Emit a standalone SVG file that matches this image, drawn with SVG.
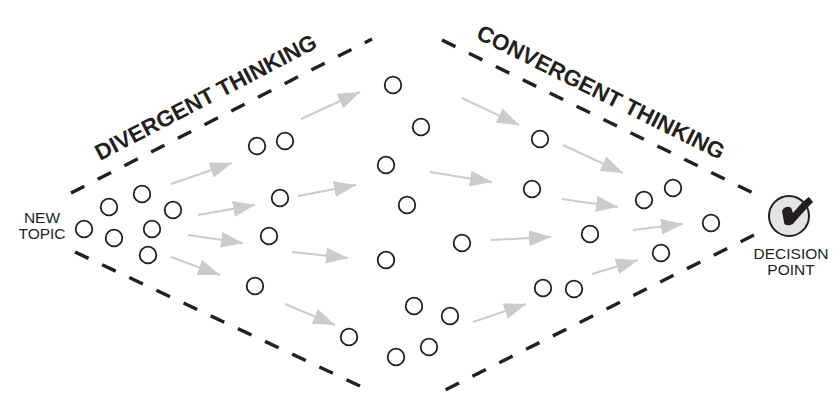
<svg xmlns="http://www.w3.org/2000/svg" width="839" height="407" viewBox="0 0 839 407">
<style>
text{font-family:"Liberation Sans",Arial,sans-serif;fill:#231f20}
.l{font-size:15.5px;text-anchor:middle}
.t{font-size:22.5px;font-weight:bold}
.n{fill:#fff;stroke:#231f20;stroke-width:1.8}
.d{fill:none;stroke:#231f20;stroke-width:3.4;stroke-dasharray:15 15}
.a{stroke:#cbcbcb;stroke-width:2;fill:none;marker-end:url(#ah)}
</style>
<defs><marker id="ah" markerUnits="userSpaceOnUse" markerWidth="24" markerHeight="18" refX="22" refY="8" orient="auto"><path d="M0 0L22 8L0 16Z" fill="#cbcbcb"/></marker></defs>
<rect width="839" height="407" fill="#fff"/>
<g id="connectors">
<path class="d" d="M71 193L372 39"/>
<path class="d" d="M75 252L362 387"/>
<path class="d" d="M442 40L753 193"/>
<path class="d" d="M754 235L445 390"/>
<path class="a" d="M171 184L232 163"/>
<path class="a" d="M198 215L255 205"/>
<path class="a" d="M188 235L243 243"/>
<path class="a" d="M171 257L220 275"/>
<path class="a" d="M301 119L360 92"/>
<path class="a" d="M298 196L356 185"/>
<path class="a" d="M292 252L348 258"/>
<path class="a" d="M285 304L335 325"/>
<path class="a" d="M430 172L492 182"/>
<path class="a" d="M462 98L519 125"/>
<path class="a" d="M563 145L623 173"/>
<path class="a" d="M562 199L618 207"/>
<path class="a" d="M491 240L551 237"/>
<path class="a" d="M473 322L526 304"/>
<path class="a" d="M592 274L638 260"/>
<path class="a" d="M633 230L683 224"/>
</g>
<g id="nodes">
<circle class="n" cx="84" cy="229" r="8.3"/><circle class="n" cx="109" cy="207" r="8.3"/><circle class="n" cx="114" cy="238" r="8.3"/><circle class="n" cx="142" cy="194" r="8.3"/><circle class="n" cx="152" cy="229" r="8.3"/><circle class="n" cx="173" cy="210" r="8.3"/><circle class="n" cx="148" cy="255" r="8.3"/><circle class="n" cx="257" cy="146" r="8.3"/><circle class="n" cx="285" cy="141" r="8.3"/><circle class="n" cx="280" cy="198" r="8.3"/><circle class="n" cx="269" cy="236" r="8.3"/><circle class="n" cx="255" cy="286" r="8.3"/><circle class="n" cx="349" cy="337" r="8.3"/><circle class="n" cx="393" cy="85" r="8.3"/><circle class="n" cx="421" cy="127" r="8.3"/><circle class="n" cx="386" cy="165" r="8.3"/><circle class="n" cx="407" cy="205" r="8.3"/><circle class="n" cx="386" cy="260" r="8.3"/><circle class="n" cx="462" cy="243" r="8.3"/><circle class="n" cx="414" cy="306" r="8.3"/><circle class="n" cx="450" cy="316" r="8.3"/><circle class="n" cx="429" cy="347" r="8.3"/><circle class="n" cx="396" cy="357" r="8.3"/><circle class="n" cx="540" cy="139" r="8.3"/><circle class="n" cx="532" cy="189" r="8.3"/><circle class="n" cx="590" cy="234" r="8.3"/><circle class="n" cx="543" cy="288" r="8.3"/><circle class="n" cx="574" cy="289" r="8.3"/><circle class="n" cx="644" cy="200" r="8.3"/><circle class="n" cx="673" cy="188" r="8.3"/><circle class="n" cx="711" cy="223" r="8.3"/><circle class="n" cx="661" cy="253" r="8.3"/>
</g>
<g id="new-topic"><text class="l" x="42" y="223">NEW</text><text class="l" x="42" y="239">TOPIC</text></g>
<g id="decision-point">
<circle cx="789" cy="216" r="20" fill="#e4e4e4" stroke="#231f20" stroke-width="2"/>
<path d="M782 211C784 206 791 205 792 210L793 213C798 207 804 200 809 197L813 202C806 209 798 218 793 224C789 226 784 226 784 222Z" fill="#231f20"/>
<text class="l" x="791" y="259">DECISION</text><text class="l" x="791" y="275">POINT</text>
</g>
<g id="labels">
<text class="t" transform="translate(100 161) rotate(-27.5)">DIVERGENT THINKING</text>
<text class="t" transform="translate(475 38) rotate(26.5)">CONVERGENT THINKING</text>
</g>
</svg>
